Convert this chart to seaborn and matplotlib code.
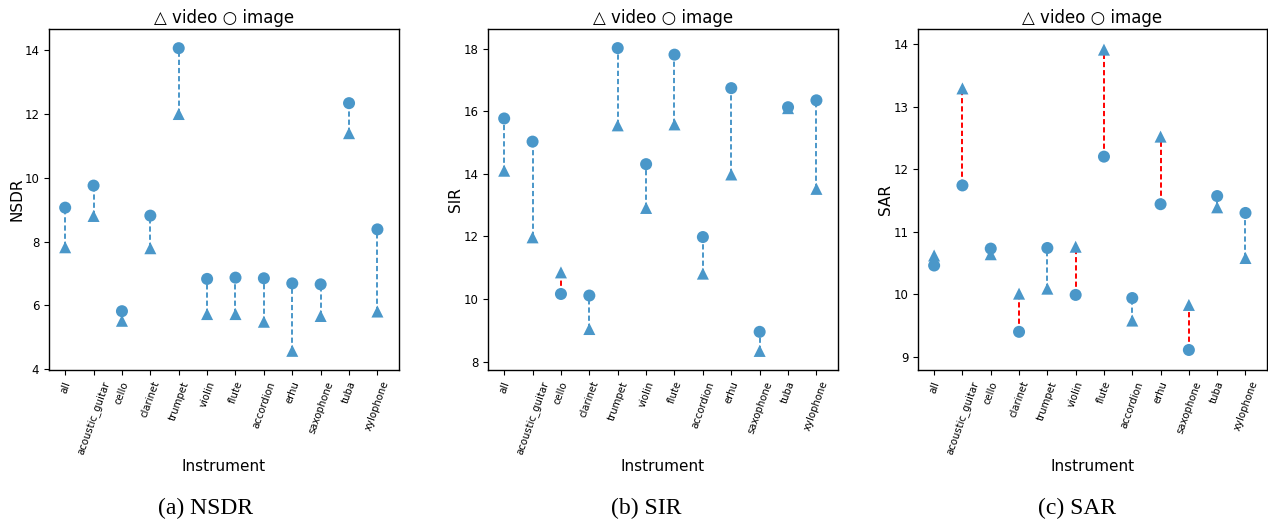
import numpy as np
import pandas as pd
import matplotlib
matplotlib.use("Agg")
import matplotlib.pyplot as plt
import seaborn as sns

instruments = ["all", "acoustic_guitar", "cello", "clarinet", "trumpet", "violin",
               "flute", "accordion", "erhu", "saxophone", "tuba", "xylophone"]

nsdr_image = [9.06, 9.75, 5.82, 8.81, 14.05, 6.83, 6.87, 6.85, 6.69, 6.66, 12.33, 8.38]
nsdr_video = [7.82, 8.80, 5.52, 7.79, 11.99, 5.73, 5.73, 5.49, 4.58, 5.67, 11.39, 5.81]

sir_image = [15.77, 15.03, 10.16, 10.11, 18.02, 14.31, 17.81, 11.98, 16.74, 8.95, 16.13, 16.35]
sir_video = [14.10, 11.97, 10.85, 9.04, 15.55, 12.91, 15.58, 10.81, 13.98, 8.34, 16.10, 13.52]

sar_image = [10.46, 11.74, 10.73, 9.40, 10.74, 9.99, 12.20, 9.94, 11.44, 9.11, 11.57, 11.30]
sar_video = [10.62, 13.29, 10.64, 10.01, 10.09, 10.76, 13.91, 9.58, 12.52, 9.83, 11.39, 10.58]

metrics = ["NSDR", "SIR", "SAR"]
captions = ["(a) NSDR", "(b) SIR", "(c) SAR"]
title_text = "\u25b3 video \u25cb image"

BLUE = "#4a97c9"

sns.set_style("ticks")
plt.rcParams["font.family"] = ["DejaVu Sans"]
plt.rcParams.update({
    "text.color": "black", "axes.labelcolor": "black",
    "xtick.color": "black", "ytick.color": "black",
    "axes.edgecolor": "black",
})

W, H = 1268, 521
fig = plt.figure(figsize=(W / 100, H / 100), dpi=100)

panel_left = [49, 488, 918]
panel_w = [350, 350, 349]
ax_top, ax_bot = 29, 370
ylims = [(3.98, 14.65), (7.73, 18.63), (8.79, 14.24)]
yticks = [[4, 6, 8, 10, 12, 14], [8, 10, 12, 14, 16, 18], [9, 10, 11, 12, 13, 14]]
cap_x = [206, 646, 1077]

data = [(nsdr_image, nsdr_video), (sir_image, sir_video), (sar_image, sar_video)]

for i, metric in enumerate(metrics):
    img, vid = data[i]
    ax = fig.add_axes([panel_left[i] / W, 1 - ax_bot / H,
                       panel_w[i] / W, (ax_bot - ax_top) / H])
    df = pd.DataFrame({
        "Instrument": instruments * 2,
        metric: list(vid) + list(img),
        "kind": ["video"] * len(instruments) + ["image"] * len(instruments),
    })
    df["x"] = np.tile(np.arange(len(instruments)), 2)
    # connecting dashed lines
    for j in range(len(instruments)):
        c = "red" if vid[j] > img[j] else BLUE
        ax.vlines(j, min(img[j], vid[j]), max(img[j], vid[j]),
                  colors=c, linestyles=(0, (2.7, 1.5)), linewidth=1.4, zorder=1)
    sns.scatterplot(data=df, x="x", y=metric, style="kind",
                    markers={"video": "^", "image": "o"},
                    color=BLUE, s=75, linewidth=0, ax=ax, legend=False, zorder=3)
    ax.set_xlim(-0.57, 11.76)
    ax.set_ylim(*ylims[i])
    ax.set_yticks(yticks[i])
    ax.set_xticks(np.arange(len(instruments)))
    ax.set_xticklabels(instruments, rotation=70, fontsize=7.3)
    ax.tick_params(axis="y", labelsize=8.5)
    ax.set_xlabel("Instrument", fontsize=11, labelpad=2)
    ax.set_ylabel(metric, fontsize=11, labelpad=0)
    ax.set_title(title_text, fontsize=12, pad=4)
    for sp in ax.spines.values():
        sp.set_visible(True)
        sp.set_linewidth(1.0)
    fig.text(cap_x[i] / W, 1 - 508 / H, captions[i], ha="center", va="center",
             fontsize=17, family="Liberation Serif")

fig.savefig("out.png", dpi=100)
